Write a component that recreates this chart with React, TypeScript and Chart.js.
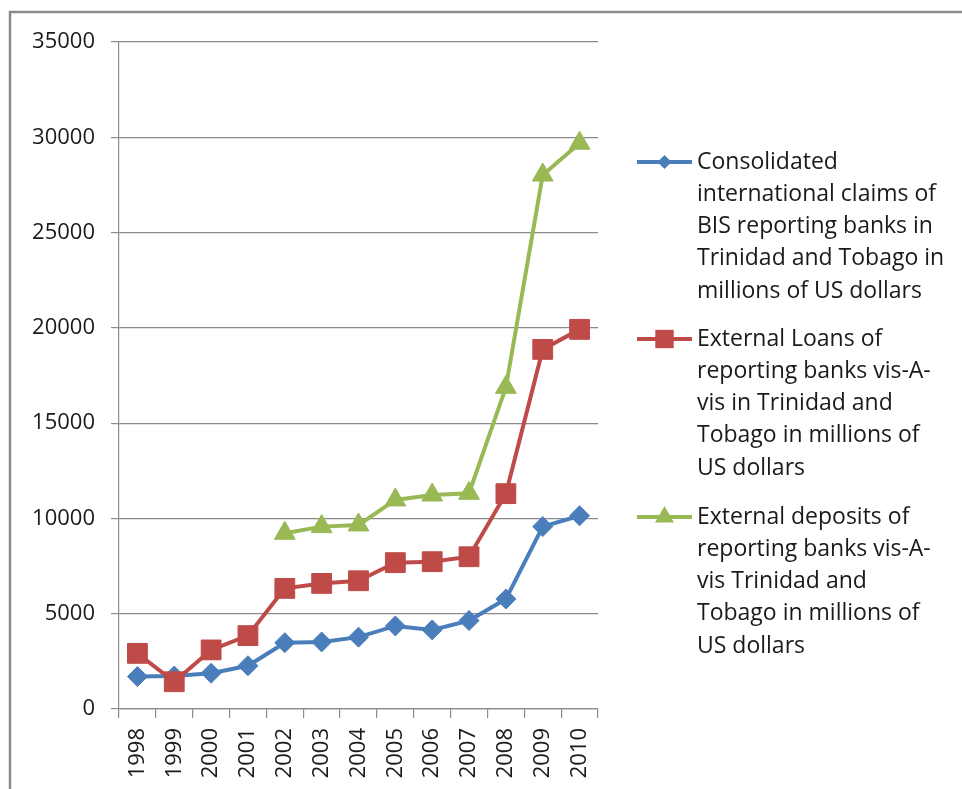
import React, { useEffect, useRef } from "react";
import { Chart, registerables } from "chart.js";

Chart.register(...registerables);

const years = ["1998", "1999", "2000", "2001", "2002", "2003", "2004", "2005", "2006", "2007", "2008", "2009", "2010"];
const claims = [1700, 1730, 1880, 2270, 3480, 3520, 3770, 4360, 4150, 4640, 5770, 9570, 10140];
const loans = [2920, 1430, 3100, 3850, 6330, 6590, 6730, 7680, 7730, 7990, 11300, 18870, 19920];
const deposits = [null, null, null, null, 9220, 9570, 9660, 10970, 11230, 11320, 16880, 28020, 29690];

const claimsLabel = ["Consolidated", "international claims of", "BIS reporting banks in", "Trinidad and Tobago in", "millions of US dollars"];
const loansLabel = ["External Loans of", "reporting banks vis-A-", "vis in Trinidad and", "Tobago in millions of", "US dollars"];
const depositsLabel = ["External deposits of", "reporting banks vis-A-", "vis Trinidad and", "Tobago in millions of", "US dollars"];

const BLUE = "#4A7EBB";
const RED = "#BE4B48";
const GREEN = "#98B954";
const FONT = "'Open Sans', Lato, sans-serif";

function drawMarker(ctx: CanvasRenderingContext2D, style: string, x: number, y: number, r: number, color: string) {
  ctx.save();
  ctx.fillStyle = color;
  ctx.beginPath();
  if (style === "rectRot") {
    ctx.moveTo(x, y - r);
    ctx.lineTo(x + r, y);
    ctx.lineTo(x, y + r);
    ctx.lineTo(x - r, y);
  } else if (style === "rect") {
    const s = r * Math.SQRT1_2;
    ctx.rect(x - s, y - s, 2 * s, 2 * s);
  } else {
    const h = r * 1.5;
    const w = r * Math.sqrt(3) / 2;
    ctx.moveTo(x, y - r);
    ctx.lineTo(x + w, y + h - r);
    ctx.lineTo(x - w, y + h - r);
  }
  ctx.closePath();
  ctx.fill();
  ctx.restore();
}

const legendPlugin = {
  id: "sideLegend",
  afterDraw(chart: any) {
    const ctx = chart.ctx as CanvasRenderingContext2D;
    ctx.save();
    ctx.strokeStyle = "#8a8a8a";
    ctx.lineWidth = 2.5;
    ctx.beginPath();
    ctx.moveTo(10, 789);
    ctx.lineTo(10, 12);
    ctx.lineTo(962, 12);
    ctx.stroke();
    ctx.restore();

    const items = [
      { lines: claimsLabel, color: BLUE, style: "rectRot", r: 7, y: 162 },
      { lines: loansLabel, color: RED, style: "rect", r: 13, y: 339 },
      { lines: depositsLabel, color: GREEN, style: "triangle", r: 11, y: 517 },
    ];
    ctx.save();
    ctx.font = `23px ${FONT}`;
    ctx.textBaseline = "middle";
    ctx.textAlign = "left";
    for (const it of items) {
      ctx.strokeStyle = it.color;
      ctx.lineWidth = 4;
      ctx.beginPath();
      ctx.moveTo(637, it.y);
      ctx.lineTo(692, it.y);
      ctx.stroke();
      drawMarker(ctx, it.style, 664.5, it.y, it.r, it.color);
      it.lines.forEach((ln, i) => {
        ctx.fillStyle = "#1a1a1a";
        ctx.fillText(ln, 697, it.y + i * 32.3);
      });
    }
    ctx.restore();
  },
};

export default function App() {
  const ref = useRef<HTMLCanvasElement | null>(null);
  useEffect(() => {
    if (!ref.current) return;
    const chart = new Chart(ref.current, {
      type: "line",
      data: {
        labels: years,
        datasets: [
          {
            label: claimsLabel.join(" "),
            data: claims,
            borderColor: BLUE,
            backgroundColor: BLUE,
            borderWidth: 4,
            pointStyle: "rectRot",
            pointRadius: 10,
            pointBorderWidth: 1,
            pointBorderColor: BLUE,
            pointBackgroundColor: BLUE,
            order: 2,
          },
          {
            label: loansLabel.join(" "),
            data: loans,
            borderColor: RED,
            backgroundColor: RED,
            borderWidth: 4,
            pointStyle: "rect",
            pointRadius: 14,
            pointBorderWidth: 1,
            pointBorderColor: RED,
            pointBackgroundColor: RED,
            order: 1,
          },
          {
            label: depositsLabel.join(" "),
            data: deposits,
            borderColor: GREEN,
            backgroundColor: GREEN,
            borderWidth: 4,
            pointStyle: "triangle",
            pointRadius: 12,
            pointBorderWidth: 1,
            pointBorderColor: GREEN,
            pointBackgroundColor: GREEN,
            order: 0,
          },
        ],
      },
      options: {
        responsive: false,
        animation: false,
        events: [],
        layout: { padding: { left: 0, top: 42, right: 364, bottom: 0 } },
        plugins: { legend: { display: false }, tooltip: { enabled: false } },
        scales: {
          x: {
            type: "category",
            offset: true,
            grid: { offset: true, drawOnChartArea: false, drawTicks: true, tickLength: 9, color: "#8a8a8a", lineWidth: 1.2 },
            border: { color: "#8a8a8a", width: 1.2 },
            ticks: { minRotation: 90, maxRotation: 90, autoSkip: false, font: { family: FONT, size: 22 }, color: "#1a1a1a", padding: 10 },
            afterFit: (s: any) => { s.height = 80; },
          },
          y: {
            min: 0,
            max: 35000,
            ticks: { stepSize: 5000, font: { family: FONT, size: 22 }, color: "#1a1a1a", padding: 16, callback: (v: any) => String(v) },
            grid: { color: "#8a8a8a", lineWidth: 1.2, tickLength: 8 },
            border: { color: "#8a8a8a", width: 1.2 },
            afterFit: (s: any) => { s.width = 119; },
          },
        },
      },
      plugins: [legendPlugin],
    });
    return () => chart.destroy();
  }, []);
  return (
    <div style={{ position: "absolute", left: 0, top: 0, width: 962, height: 789, background: "#fff" }}>
      <canvas ref={ref} width={962} height={789} />
    </div>
  );
}
